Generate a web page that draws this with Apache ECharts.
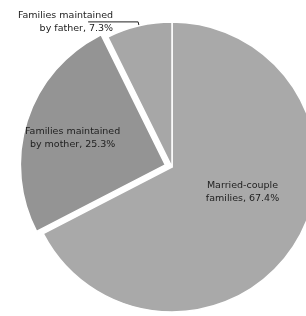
<!DOCTYPE html>
<html>
<head>
<meta charset="utf-8">
<script src="https://cdn.jsdelivr.net/npm/echarts@6/dist/echarts.min.js"></script>
<style>
html,body{margin:0;padding:0;background:#fff;}
#chart_1{width:306px;height:316px;}
</style>
</head>
<body>
<div id="chart_1"></div>
<script>
var names = ['Married-couple\nfamilies', 'Families maintained\nby mother', 'Families maintained\nby father']
var values = [67.4, 25.3, 7.3]
var colors = ['#a9a9a9', '#949494', '#a7a7a7']
// label nudges (inside labels)
var labelShift = [[6, -14], [-21, -3], [0, 0]]

var char1 = echarts.init(document.getElementById('chart_1'))
var data = []
for (var i = 0; i < values.length; i++) {
    var item = {
        name: names[i],
        value: values[i],
        itemStyle: { color: colors[i] }
    }
    if (i == 1) {
        item.selected = true
    }
    if (i == 2) {
        item.label = {
            position: 'outside',
            distanceToLabelLine: -25
        }
        item.labelLine = {
            show: true,
            length: 4,
            length2: 50,
            lineStyle: { color: '#222', width: 1 }
        }
    }
    data.push(item)
}

var option1 = {
    animation: false,
    series: [
        {
            type: 'pie',
            center: [172, 167],
            radius: 145,
            startAngle: 90,
            clockwise: true,
            avoidLabelOverlap: false,
            selectedMode: 'single',
            selectedOffset: 7,
            itemStyle: {
                borderColor: '#fff',
                borderWidth: 1.5
            },
            label: {
                position: 'inside',
                color: '#222',
                fontFamily: 'DejaVu Sans',
                fontSize: 9.5,
                lineHeight: 13,
                align: 'center',
                formatter: function (p) {
                    return p.name + ', ' + p.value + '%'
                }
            },
            labelLayout: function (p) {
                return { dx: labelShift[p.dataIndex][0], dy: labelShift[p.dataIndex][1] }
            },
            emphasis: { disabled: true },
            data: data
        }
    ]
}
char1.setOption(option1)
</script>
</body>
</html>
